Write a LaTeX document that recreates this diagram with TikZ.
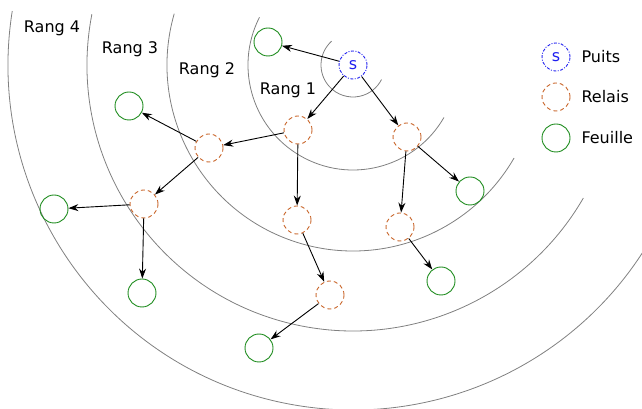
\documentclass[tikz,border=0pt]{standalone}
\usepackage{fontspec}
\setmainfont{DejaVu Sans}
\usepackage{tikz}
\usetikzlibrary{arrows.meta}

\definecolor{relaiscol}{RGB}{200,100,40}
\definecolor{feuillecol}{RGB}{30,140,30}
\definecolor{puitscol}{RGB}{30,30,240}

\tikzset{
	puits/.style={circle, draw=puitscol, dash pattern=on 3pt off 1.5pt on 1pt off 1.5pt, line width=0.9pt, minimum size=28pt, inner sep=0pt, text=puitscol},
	relais/.style={circle, draw=relaiscol, dash pattern=on 4pt off 3pt, line width=0.9pt, minimum size=28pt, inner sep=0pt},
	feuille/.style={circle, draw=feuillecol, line width=0.9pt, minimum size=28pt, inner sep=0pt},
	rang/.style={gray, line width=0.8pt},
	lien/.style={->, line width=0.9pt, >={Stealth[length=10pt,width=7pt]}}
}

\begin{document}
\begin{tikzpicture}[x=1pt, y=1pt, font=\fontsize{16}{19}\selectfont]
		\useasboundingbox (0, 0) rectangle (642, 409);
		\clip (0, 0) rectangle (642, 409);

		\coordinate (c) at (353, 344);
		\draw[rang] (c) ++(132:32) arc[start angle=132, end angle=333, radius=32];
		\draw[rang] (c) ++(153:105) arc[start angle=153, end angle=330, radius=105];
		\draw[rang] (c) ++(164:186) arc[start angle=164, end angle=330, radius=186];
		\draw[rang] (c) ++(169:266) arc[start angle=169, end angle=330, radius=266];
		\draw[rang] (c) ++(171:345) arc[start angle=171, end angle=330, radius=345];

		\node at (288, 319) {Rang 1};
		\node at (207, 339) {Rang 2};
		\node at (130, 360) {Rang 3};
		\node at (52, 381) {Rang 4};

		\node[puits] (s) at (c) {s};
		\node[feuille] (f0) at (268, 367) {};
		\node[relais] (r1a) at (298, 279) {};
		\node[relais] (r1b) at (407, 272) {};
		\node[feuille] (f1) at (470, 218) {};
		\node[relais] (r2b) at (400, 182) {};
		\node[feuille] (f2) at (441, 128) {};
		\node[relais] (r2a) at (209, 261) {};
		\node[feuille] (f3) at (129, 303) {};
		\node[relais] (r3a) at (144, 205) {};
		\node[feuille] (f4) at (54, 200) {};
		\node[feuille] (f5) at (142, 116) {};
		\node[relais] (r2c) at (297, 189) {};
		\node[relais] (r3c) at (330, 114) {};
		\node[feuille] (f6) at (259, 61) {};

		\draw[lien] (s) -- (f0);
		\draw[lien] (s) -- (r1a);
		\draw[lien] (s) -- (r1b);
		\draw[lien] (r1b) -- (f1);
		\draw[lien] (r1b) -- (r2b);
		\draw[lien] (r2b) -- (f2);
		\draw[lien] (r1a) -- (r2a);
		\draw[lien] (r2a) -- (f3);
		\draw[lien] (r2a) -- (r3a);
		\draw[lien] (r3a) -- (f4);
		\draw[lien] (r3a) -- (f5);
		\draw[lien] (r1a) -- (r2c);
		\draw[lien] (r2c) -- (r3c);
		\draw[lien] (r3c) -- (f6);

		\node[puits] (lp) at (556, 352) {s};
		\node[relais] (lr) at (556, 312) {};
		\node[feuille] (lf) at (556, 271) {};
		\node[right=22pt] at (lp.center) {Puits};
		\node[right=22pt] at (lr.center) {Relais};
		\node[right=22pt] at (lf.center) {Feuille};
	\end{tikzpicture}
\end{document}
